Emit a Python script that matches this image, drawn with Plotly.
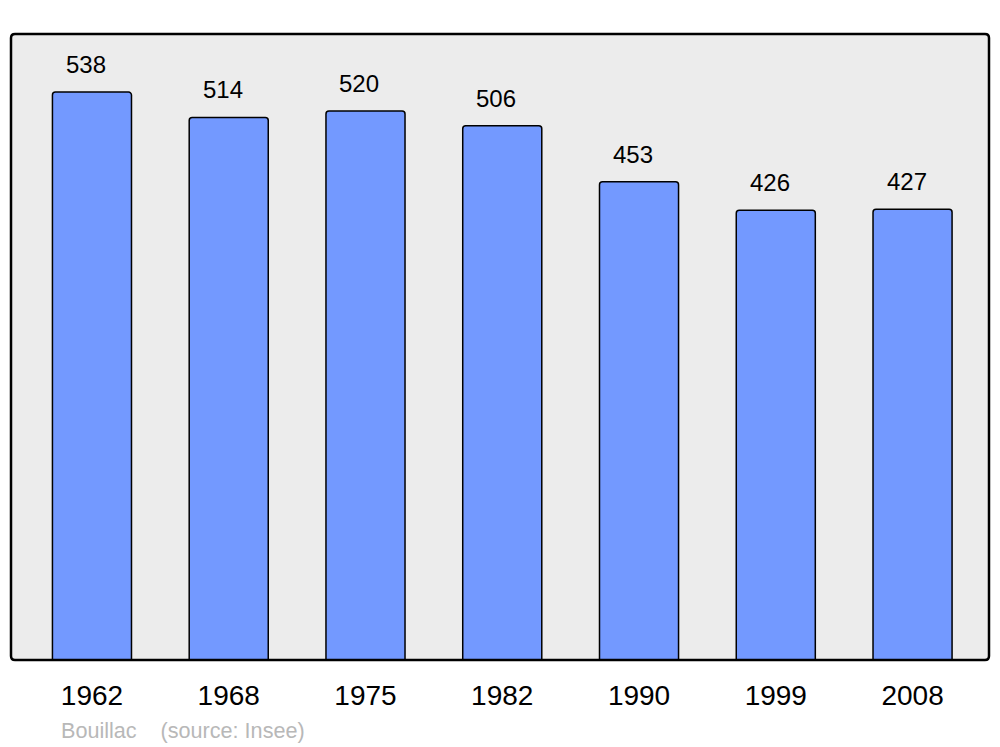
import plotly.graph_objects as go

years = ["1962", "1968", "1975", "1982", "1990", "1999", "2008"]
population = [538, 514, 520, 506, 453, 426, 427]
caption = "Bouillac    (source: Insee)"

FONT = "Liberation Sans, Arial, sans-serif"

fig = go.Figure()
fig.add_trace(go.Bar(
    x=list(range(len(years))), y=population,
    marker=dict(color="#7399FF", line=dict(color="#000000", width=1.5), cornerradius=3),
    width=0.578, hoverinfo="skip",
))

for i, v in enumerate(population):
    fig.add_annotation(x=i, y=v, text=str(v), showarrow=False, xanchor="center",
                       yanchor="bottom", yshift=12, xshift=-6,
                       font=dict(family=FONT, size=24, color="#000000"))

W, H = 978.0, 626.0
fig.add_annotation(x=(59 - 11) / W, y=-(730 - 660) / H, xref="paper", yref="paper",
                   text=caption, showarrow=False, xanchor="left", yanchor="middle",
                   font=dict(family=FONT, size=21.6, color="#B8B8B8"))

# rounded frame in paper coords
rx, ry = 4 / W, 4 / H
path = (f"M {rx},0 L {1-rx},0 Q 1,0 1,{ry} L 1,{1-ry} Q 1,1 {1-rx},1 "
        f"L {rx},1 Q 0,1 0,{1-ry} L 0,{ry} Q 0,0 {rx},0 Z")
fig.add_shape(type="path", path=path, xref="paper", yref="paper",
              line=dict(color="#000000", width=2.5), layer="above")

fig.update_layout(
    width=1000, height=747,
    margin=dict(l=11, r=11, t=34, b=87),
    paper_bgcolor="#FFFFFF", plot_bgcolor="#ECECEC",
    showlegend=False,
    xaxis=dict(range=[-0.592, 6.559], tickmode="array", tickvals=list(range(len(years))),
               ticktext=years, showgrid=False, zeroline=False, ticks="",
               tickfont=dict(family=FONT, size=28, color="#000000"), ticklabelstandoff=16,
               fixedrange=True),
    yaxis=dict(range=[0, 593], showgrid=False, zeroline=False, showticklabels=False,
               fixedrange=True),
)

fig.write_html("out.html", post_script="document.body.style.margin='0';",
               config={"displayModeBar": False})
